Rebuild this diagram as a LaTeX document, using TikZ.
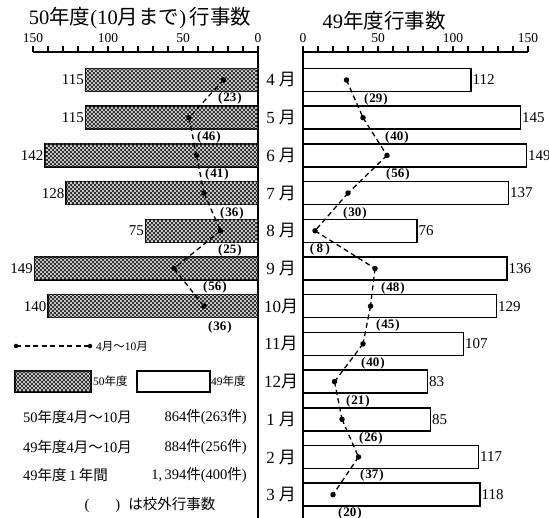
\documentclass[tikz,border=0pt]{standalone}
\usepackage{fontspec}
\setmainfont{Liberation Serif}
\newfontfamily\jp{Noto Sans CJK JP}
\usetikzlibrary{patterns}
\pgfdeclarepatternformonly{checker}{\pgfpointorigin}{\pgfpoint{4.4pt}{4.4pt}}{\pgfpoint{4.4pt}{4.4pt}}{%
  \pgfpathrectangle{\pgfpointorigin}{\pgfpoint{2.2pt}{2.2pt}}%
  \pgfpathrectangle{\pgfpoint{2.2pt}{2.2pt}}{\pgfpoint{2.2pt}{2.2pt}}%
  \pgfusepath{fill}}
\newcommand\jm{{\jp 月}}
\begin{document}
\begin{tikzpicture}[x=1pt,y=-1pt,
  axisline/.style={line width=1.4pt},
  tickmark/.style={line width=1.1pt},
  lbar/.style={draw, line width=1.5pt, rectangle, inner sep=0pt, outer sep=0pt, minimum height=23pt,
      fill=gray!40, postaction={pattern=checker, pattern color=black!80}},
  rbar/.style={draw, line width=1.5pt, rectangle, inner sep=0pt, outer sep=0pt, minimum height=23pt, fill=white},
  dot/.style={circle, fill=black, inner sep=0pt, minimum size=5.5pt},
  trend/.style={dash pattern=on 5pt off 3.5pt, line width=1.3pt},
  axnum/.style={font=\fontsize{13.5}{13.5}\selectfont, inner sep=0pt},
  valnum/.style={font=\fontsize{15}{15}\selectfont, inner sep=1.5pt},
  paren/.style={font=\bfseries\fontsize{13}{13}\selectfont, inner sep=0pt},
  mon/.style={font=\fontsize{17}{17}\selectfont, inner sep=0pt},
  ttl/.style={font=\fontsize{20.5}{20.5}\selectfont, inner sep=0pt},
  txt/.style={font=\fontsize{14.5}{14.5}\selectfont, inner sep=0pt},
  small/.style={font=\fontsize{11.5}{11.5}\selectfont, inner sep=0pt}]
\useasboundingbox (0,0) rectangle (549,518);

% titles
\node[ttl] (titleL) at (140,18) {50{\jp 年度}(10{\jp 月まで})\,{\jp 行事数}};
\node[ttl] (titleR) at (384,21) {49{\jp 年度行事数}};

% axes
\draw[axisline] (33,52) -- (258,52);
\draw[axisline] (303,52) -- (528,52);
\foreach \t in {0,10,...,150} {
  \draw[tickmark] ({258-1.5*\t},52) -- ++(0,-5.5);
  \draw[tickmark] ({303+1.5*\t},52) -- ++(0,-5.5);
}
\foreach \t in {0,50,100,150} {
  \node[axnum] (axL\t) at ({258-1.5*\t},38) {\t};
  \node[axnum] (axR\t) at ({303+1.5*\t},38) {\t};
}
\draw[axisline] (258,52) -- (258,518);
\draw[axisline] (303,52) -- (303,518);

% months
\foreach \m [count=\i from 0] in {4\hspace{4pt}\jm,5\hspace{4pt}\jm,6\hspace{4pt}\jm,7\hspace{4pt}\jm,8\hspace{4pt}\jm,9\hspace{4pt}\jm,10\jm,11\jm,12\jm,1\hspace{4pt}\jm,2\hspace{4pt}\jm,3\hspace{4pt}\jm} {
  \pgfmathsetmacro\y{80+37.7*\i}
  \node[mon] (m\i) at (281,\y) {\m};
}

% right bars (49年度)
\foreach \v/\p/\lx/\ly/\lab [count=\i from 0] in
 {112/29/376/99/29, 145/40/397/137/40, 149/56/398/174/56, 137/30/355/213/30,
  76/8/320/249/\kern1.5pt 8\kern1.5pt, 136/48/393/288/48, 129/45/388/325/45, 107/40/373/363/40,
  83/21/358/401/21, 85/26/371/438/26, 117/37/372/475/37, 118/20/350/513/20} {
  \pgfmathsetmacro\y{80+37.7*\i}
  \node[rbar, minimum width={1.5*\v*1pt}, anchor=west] (rb\i) at (303,\y) {};
  \node[valnum, anchor=west] (rv\i) at (rb\i.east) {\v};
}
\foreach \v/\p/\lx/\ly/\lab [count=\i from 0] in
 {112/29/376/99/29, 145/40/397/137/40, 149/56/398/174/56, 137/30/355/213/30,
  76/8/320/249/\kern1.5pt 8\kern1.5pt, 136/48/393/288/48, 129/45/388/325/45, 107/40/373/363/40,
  83/21/358/401/21, 85/26/371/438/26, 117/37/372/475/37, 118/20/350/513/20} {
  \pgfmathsetmacro\y{80+37.7*\i}
  \node[dot] (rp\i) at ({303+1.5*\p},\y) {};
  \node[paren] (rl\i) at (\lx,\ly) {(\kern1pt\lab\kern1pt)};
}
\foreach \i [evaluate=\i as \j using int(\i+1)] in {0,...,10}
  \draw[trend] (rp\i.center) -- (rp\j.center);

% left bars (50年度)
\foreach \v/\p/\lx/\ly [count=\i from 0] in
 {115/23/230/98, 115/46/209/137, 142/41/217/174, 128/36/232/213,
  75/25/230/250, 149/56/215/287, 140/36/220/327} {
  \pgfmathsetmacro\y{80+37.7*\i}
  \node[lbar, minimum width={1.5*\v*1pt}, anchor=east] (lb\i) at (258,\y) {};
  \node[valnum, anchor=east] (lv\i) at (lb\i.west) {\v};
}
\foreach \v/\p/\lx/\ly [count=\i from 0] in
 {115/23/230/98, 115/46/209/137, 142/41/217/174, 128/36/232/213,
  75/25/230/250, 149/56/215/287, 140/36/220/327} {
  \pgfmathsetmacro\y{80+37.7*\i}
  \node[dot] (lp\i) at ({258-1.5*\p},\y) {};
  \node[paren] (ll\i) at (\lx,\ly) {(\kern1pt\p\kern1pt)};
}
\foreach \i [evaluate=\i as \j using int(\i+1)] in {0,...,5}
  \draw[trend] (lp\i.center) -- (lp\j.center);

% legend
\node[dot, minimum size=4.5pt] (lgA) at (16,346) {};
\node[dot, minimum size=4.5pt] (lgB) at (90,346) {};
\draw[trend] (lgA.center) -- (lgB.center);
\node[small, anchor=west] (lgT) at (96,346) {4{\jp 月～}10\jm};
\node[lbar, minimum width=76pt, minimum height=21pt, anchor=west] (lgP) at (15,381.5) {};
\node[small, anchor=west] (lgP1) at (93,381.5) {50{\jp 年度}};
\node[rbar, minimum width=73pt, minimum height=21pt, anchor=west] (lgW) at (137,381.5) {};
\node[small, anchor=west] (lgW1) at (211,381.5) {49{\jp 年度}};

\node[txt, anchor=west] (t1) at (23,417) {50{\jp 年度}4{\jp 月～}10\jm};
\node[txt, anchor=east] (n1) at (247,417) {864{\jp 件}(263{\jp 件})};
\node[txt, anchor=west] (t2) at (23,447) {49{\jp 年度}4{\jp 月～}10\jm};
\node[txt, anchor=east] (n2) at (247,447) {884{\jp 件}(256{\jp 件})};
\node[txt, anchor=west] (t3) at (23,475) {49{\jp 年度}\,1\,{\jp 年間}};
\node[txt, anchor=east] (n3) at (247,475) {1,\,394{\jp 件}(400{\jp 件})};
\node[txt] (t4) at (150,505) {(\hspace{26pt})\hspace{8pt}{\jp は校外行事数}};
\end{tikzpicture}
\end{document}
